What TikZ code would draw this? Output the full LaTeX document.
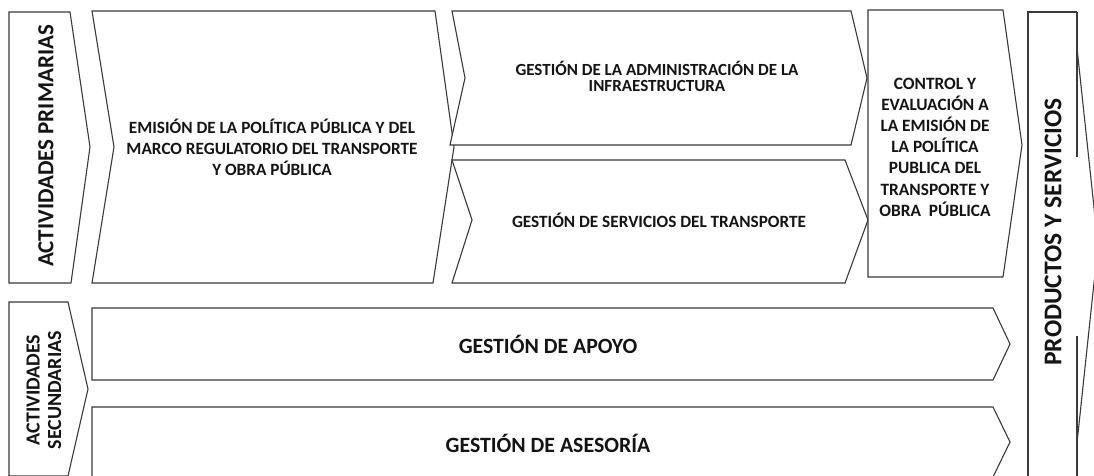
\documentclass[tikz,border=0pt]{standalone}
\usepackage{fontspec}
\setmainfont{Carlito}
\definecolor{linec}{HTML}{3A3A3A}
\definecolor{textc}{HTML}{141414}
\begin{document}
\begin{tikzpicture}[x=1pt,y=-1pt,
  shp/.style={draw=linec, line width=1.1pt, fill=white, line join=miter},
  edge/.style={draw=linec, line width=1.1pt},
  lbl/.style={text=textc, align=center, inner sep=0pt},
  fmid/.style={font=\bfseries\fontsize{17.2}{21}\selectfont},
  fctl/.style={font=\bfseries\fontsize{17.3}{21.2}\selectfont},
  ftight/.style={font=\bfseries\fontsize{17}{16}\selectfont},
  fprim/.style={font=\bfseries\fontsize{23}{25}\selectfont},
  fprod/.style={font=\bfseries\fontsize{25.5}{27}\selectfont},
  fsec/.style={font=\bfseries\fontsize{20}{21.5}\selectfont},
  flow/.style={font=\bfseries\fontsize{21.8}{24}\selectfont}]
\useasboundingbox (0,0) rectangle (1094,476);
\fill[white] (0,0) rectangle (1094,476);
\clip (0,0) rectangle (1094,476);

% primary activities
\draw[shp] (9,12) -- (70,12) -- (90,147) -- (71,283) -- (9,283) -- cycle;
\draw[shp] (92,11) -- (435,11) -- (454,147) -- (433,283) -- (92,283) -- (114,147) -- cycle;
\draw[shp] (452,11) -- (851,11) -- (867,78) -- (851,145) -- (450,145) -- (465,78) -- cycle;
\draw[shp] (452,160) -- (845,160) -- (868,220) -- (845,283) -- (452,283) -- (472,220) -- cycle;
\draw[shp] (868,10) -- (1003,10) -- (1022,145) -- (1003,277) -- (868,277) -- cycle;

% products and services
\fill[white] (1028,12) rectangle (1077,480);
\draw[edge] (1077,12) -- (1028,12) -- (1028,480);
\draw[edge] (1077,12) -- (1077,157);
\draw[edge] (1077,336) -- (1077,480);
\draw[edge] (1077,48) -- (1098,245) -- (1077,443);

% secondary activities
\draw[shp] (9,302) -- (68,302) -- (88,389) -- (68,476) -- (9,476) -- cycle;
\draw[shp] (92,308) -- (993,308) -- (1010,344) -- (993,380) -- (92,380) -- cycle;
\draw[shp] (92,407) -- (993,407) -- (1010,442) -- (993,477) -- (92,477) -- cycle;

% labels
\node[lbl, fprim, rotate=90] (prim) at (46,146) {ACTIVIDADES PRIMARIAS};
\node[lbl, fmid] (emis) at (272,147) {EMISIÓN DE LA POLÍTICA PÚBLICA Y DEL\\MARCO REGULATORIO DEL TRANSPORTE\\Y OBRA PÚBLICA};
\node[lbl, ftight] (admin) at (657,76) {GESTIÓN DE LA ADMINISTRACIÓN DE LA\\INFRAESTRUCTURA};
\node[lbl, fmid] (serv) at (659,220) {GESTIÓN DE SERVICIOS DEL TRANSPORTE};
\node[lbl, fctl] (ctrl) at (935,147) {CONTROL Y\\EVALUACIÓN A\\LA EMISIÓN DE\\LA POLÍTICA\\PUBLICA DEL\\TRANSPORTE Y\\OBRA~~PÚBLICA};
\node[lbl, fprod, rotate=90] (prod) at (1053,232) {PRODUCTOS Y SERVICIOS};
\node[lbl, fsec, rotate=90] (sec) at (44,390) {ACTIVIDADES\\SECUNDARIAS};
\node[lbl, flow] (apoyo) at (548,344) {GESTIÓN DE APOYO};
\node[lbl, flow] (ases) at (548,443) {GESTIÓN DE ASESORÍA};
\end{tikzpicture}
\end{document}
